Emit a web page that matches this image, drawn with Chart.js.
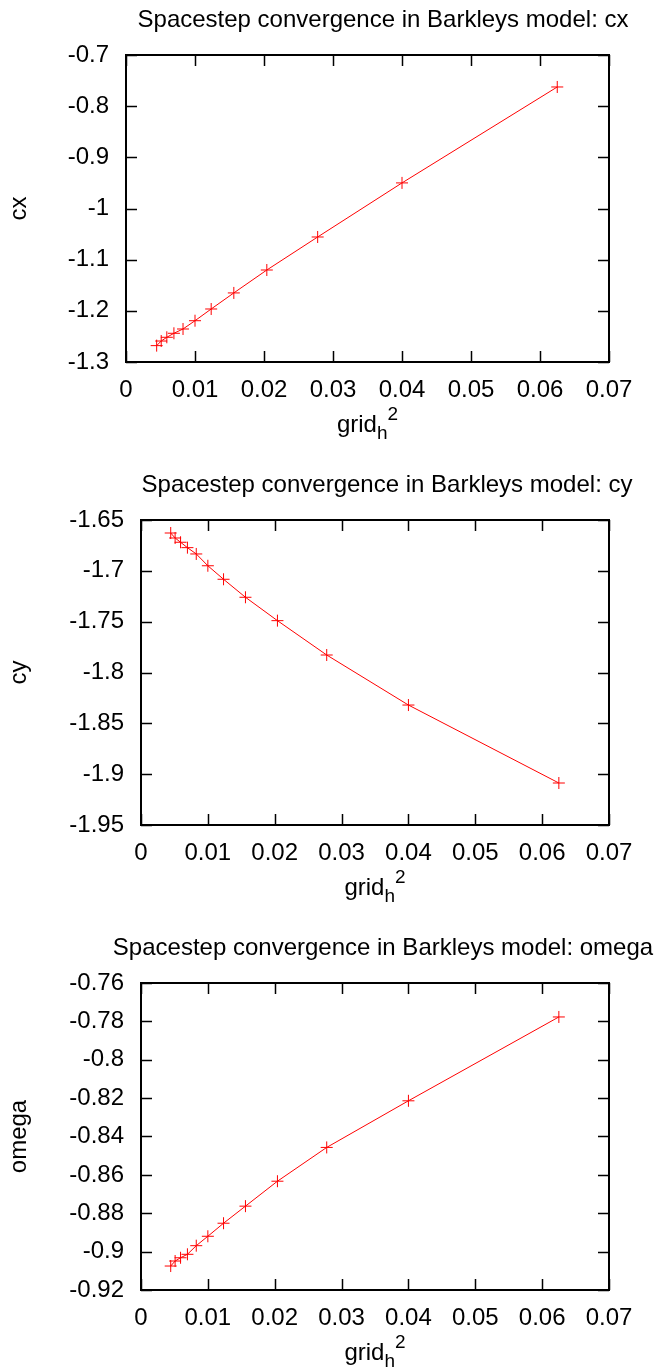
<!DOCTYPE html>
<html><head><meta charset="utf-8">
<script src="https://cdn.jsdelivr.net/npm/chart.js@4"></script>
<style>
html,body{margin:0;padding:0;background:#fff;}
.wrap{position:absolute;left:0;width:665px;height:457px;}
canvas{display:block;}
</style>
</head><body>
<div class="wrap" style="top:0px"><canvas id="c1" width="665" height="457"></canvas></div>
<div class="wrap" style="top:457px"><canvas id="c2" width="665" height="457"></canvas></div>
<div class="wrap" style="top:914px"><canvas id="c3" width="665" height="457"></canvas></div>
<script>
// ---- data ----
const gridH2 = [0.0625, 0.04, 0.027778, 0.020408, 0.015625, 0.012346, 0.01, 0.008264, 0.006944, 0.005917, 0.005102, 0.004444];
const cxValues = [-0.7625, -0.9500, -1.0557, -1.1202, -1.1650, -1.1964, -1.2193, -1.2355, -1.2439, -1.2517, -1.2590, -1.2680];
const cyValues = [-1.9087, -1.8320, -1.7828, -1.7490, -1.7260, -1.7083, -1.6950, -1.6834, -1.6772, -1.6719, -1.6677, -1.6628];
const omegaValues = [-0.7777, -0.8214, -0.8457, -0.8633, -0.8763, -0.8852, -0.8920, -0.8969, -0.9014, -0.9032, -0.9049, -0.9075];
const xTicks = [0, 0.01, 0.02, 0.03, 0.04, 0.05, 0.06, 0.07];
const cxTicks = [-1.3, -1.2, -1.1, -1, -0.9, -0.8, -0.7];
const cyTicks = [-1.95, -1.9, -1.85, -1.8, -1.75, -1.7, -1.65];
const omegaTicks = [-0.92, -0.9, -0.88, -0.86, -0.84, -0.82, -0.8, -0.78, -0.76];
const titles = ['Spacestep convergence in Barkleys model: cx',
                'Spacestep convergence in Barkleys model: cy',
                'Spacestep convergence in Barkleys model: omega'];
const yNames = ['cx', 'cy', 'omega'];

const FONT = '"Liberation Sans", Arial, sans-serif';
const FS = 24;
const W = 665, H = 457;

const framePlugin = {
  id: 'frame',
  beforeDatasetsDraw(chart, args, o) {
    const {ctx, chartArea: a, scales: {x, y}} = chart;
    const T = 11;
    ctx.save();
    ctx.strokeStyle = '#000';
    ctx.lineWidth = 1.5;
    ctx.beginPath();
    x.ticks.forEach(t => {
      const p = Math.round(x.getPixelForValue(t.value)) + 0.5;
      ctx.moveTo(p, a.bottom); ctx.lineTo(p, a.bottom - T);
      ctx.moveTo(p, a.top); ctx.lineTo(p, a.top + T);
    });
    y.ticks.forEach(t => {
      const p = Math.round(y.getPixelForValue(t.value)) + 0.5;
      ctx.moveTo(a.left, p); ctx.lineTo(a.left + T, p);
      ctx.moveTo(a.right, p); ctx.lineTo(a.right - T, p);
    });
    ctx.stroke();
    ctx.lineWidth = 2;
    ctx.strokeRect(a.left, a.top, a.right - a.left, a.bottom - a.top);
    ctx.restore();
  },
  afterDraw(chart, args, o) {
    const {ctx, chartArea: a} = chart;
    ctx.save();
    ctx.fillStyle = '#000';
    ctx.font = FS + 'px ' + FONT;
    ctx.textAlign = 'center';
    ctx.textBaseline = 'middle';
    ctx.fillText(o.title, o.titleX, o.titleY);
    // y title
    ctx.save();
    ctx.translate(o.yTitleX, (a.top + a.bottom) / 2);
    ctx.rotate(-Math.PI / 2);
    ctx.fillText(o.yTitle, 0, 0);
    ctx.restore();
    // x title: grid_h^2
    ctx.textAlign = 'left';
    ctx.textBaseline = 'alphabetic';
    const small = Math.round(FS * 0.8) + 'px ' + FONT;
    ctx.font = FS + 'px ' + FONT;
    const w1 = ctx.measureText('grid').width;
    ctx.font = small;
    const w2 = ctx.measureText('h').width;
    const w3 = ctx.measureText('2').width;
    const total = w1 + w2 + w3;
    let sx = (a.left + a.right) / 2 - total / 2 + o.xTitleDX;
    const by = o.xTitleY;
    ctx.font = FS + 'px ' + FONT;
    ctx.fillText('grid', sx, by);
    ctx.font = small;
    ctx.fillText('h', sx + w1, by + 7);
    ctx.fillText('2', sx + w1 + w2, by - 12);
    ctx.restore();
  }
};

function makeChart(id, values, yTicks, idx, box) {
  const ctx = document.getElementById(id);
  return new Chart(ctx, {
    type: 'line',
    data: {
      datasets: [{
        data: gridH2.map((g, i) => ({x: g, y: values[i]})),
        borderColor: '#ff0000',
        backgroundColor: '#ff0000',
        borderWidth: 1,
        pointStyle: 'cross',
        pointRadius: 6,
        pointBorderWidth: 1,
        pointHoverRadius: 6,
        tension: 0,
        fill: false
      }]
    },
    options: {
      responsive: false,
      animation: false,
      events: [],
      layout: {padding: {left: 0, top: box.top, right: W - box.right, bottom: 0}},
      plugins: {
        legend: {display: false},
        tooltip: {enabled: false},
        title: {display: false},
        frame: {
          title: titles[idx], titleX: box.titleX, titleY: box.titleY,
          yTitle: yNames[idx], yTitleX: 19,
          xTitleY: box.xTitleY, xTitleDX: 0
        }
      },
      scales: {
        x: {
          type: 'linear',
          min: xTicks[0], max: xTicks[xTicks.length - 1],
          afterBuildTicks: s => { s.ticks = xTicks.map(v => ({value: v})); },
          afterFit: s => { s.height = H - box.bottom; },
          grid: {display: false, drawTicks: false},
          border: {display: false},
          ticks: {
            padding: 14, color: '#000',
            font: {family: FONT, size: FS},
            maxRotation: 0, autoSkip: false,
            callback: v => String(+v.toFixed(4))
          }
        },
        y: {
          type: 'linear',
          min: yTicks[0], max: yTicks[yTicks.length - 1],
          afterBuildTicks: s => { s.ticks = yTicks.map(v => ({value: v})); },
          afterFit: s => { s.width = box.left; },
          grid: {display: false, drawTicks: false},
          border: {display: false},
          ticks: {
            padding: 17, color: '#000',
            font: {family: FONT, size: FS},
            autoSkip: false,
            callback: v => String(+v.toFixed(4))
          }
        }
      }
    },
    plugins: [framePlugin]
  });
}

makeChart('c1', cxValues, cxTicks, 0, {left: 126, right: 609, top: 55, bottom: 362, titleX: 383, titleY: 20, xTitleY: 432});
makeChart('c2', cyValues, cyTicks, 1, {left: 141, right: 609, top: 63, bottom: 368, titleX: 387, titleY: 28, xTitleY: 438});
makeChart('c3', omegaValues, omegaTicks, 2, {left: 141, right: 609, top: 69, bottom: 376, titleX: 383, titleY: 34, xTitleY: 446});
</script>
</body></html>
